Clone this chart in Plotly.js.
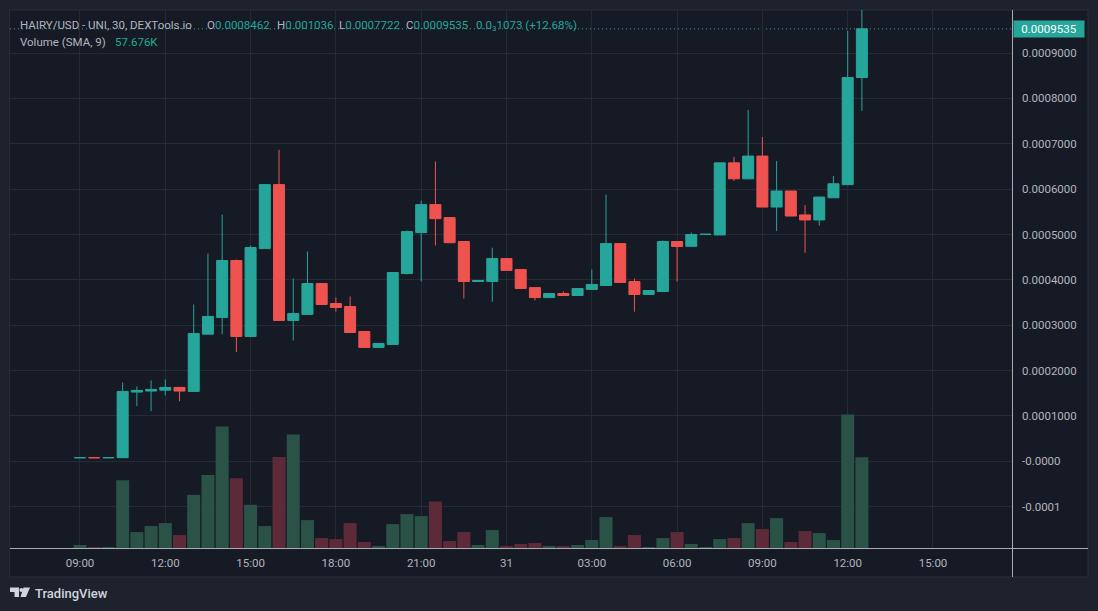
<!DOCTYPE html>
<html>
<head>
<meta charset="utf-8">
<script src="https://cdn.plot.ly/plotly-3.0.1.min.js"></script>
<style>
html,body{margin:0;padding:0;background:#1e222d;}
#chart{width:1098px;height:611px;}
</style>
</head>
<body>
<div id="chart"></div>
<script>
// ---------- DATA ----------
const times = [
 "2024-05-30 09:00","2024-05-30 09:30","2024-05-30 10:00","2024-05-30 10:30","2024-05-30 11:00","2024-05-30 11:30",
 "2024-05-30 12:00","2024-05-30 12:30","2024-05-30 13:00","2024-05-30 13:30","2024-05-30 14:00","2024-05-30 14:30",
 "2024-05-30 15:00","2024-05-30 15:30","2024-05-30 16:00","2024-05-30 16:30","2024-05-30 17:00","2024-05-30 17:30",
 "2024-05-30 18:00","2024-05-30 18:30","2024-05-30 19:00","2024-05-30 19:30","2024-05-30 20:00","2024-05-30 20:30",
 "2024-05-30 21:00","2024-05-30 21:30","2024-05-30 22:00","2024-05-30 22:30","2024-05-30 23:00","2024-05-30 23:30",
 "2024-05-31 00:00","2024-05-31 00:30","2024-05-31 01:00","2024-05-31 01:30","2024-05-31 02:00","2024-05-31 02:30",
 "2024-05-31 03:00","2024-05-31 03:30","2024-05-31 04:00","2024-05-31 04:30","2024-05-31 05:00","2024-05-31 05:30",
 "2024-05-31 06:00","2024-05-31 06:30","2024-05-31 07:00","2024-05-31 07:30","2024-05-31 08:00","2024-05-31 08:30",
 "2024-05-31 09:00","2024-05-31 09:30","2024-05-31 10:00","2024-05-31 10:30","2024-05-31 11:00","2024-05-31 11:30",
 "2024-05-31 12:00","2024-05-31 12:30"
];
const openP = [
 0.0000080,0.0000081,0.0000080,0.0000081,0.0001527,0.0001550,0.0001570,0.0001630,0.0001542,0.0002804,
 0.0003172,0.0004427,0.0002753,0.0004690,0.0006101,0.0003106,0.0003240,0.0003920,0.0003480,0.0003414,
 0.0002863,0.0002511,0.0002577,0.0004140,0.0005044,0.0005660,0.0005374,0.0004846,0.0003965,0.0003965,
 0.0004470,0.0004230,0.0003830,0.0003610,0.0003700,0.0003656,0.0003790,0.0003877,0.0004800,0.0003965,
 0.0003680,0.0003744,0.0004846,0.0004740,0.0005000,0.0004991,0.0006580,0.0006228,0.0006730,0.0005606,
 0.0005960,0.0005432,0.0005322,0.0005810,0.0006100,0.0008462
];
const highP = [
 0.0000081,0.0000081,0.0000081,0.0001740,0.0001650,0.0001784,0.0001806,0.0001630,0.0003458,0.0004580,
 0.0005440,0.0004450,0.0004758,0.0006101,0.0006870,0.0004030,0.0004626,0.0003920,0.0003610,0.0003634,
 0.0002863,0.0002600,0.0004163,0.0005090,0.0005750,0.0006610,0.0005374,0.0004846,0.0004000,0.0004710,
 0.0004470,0.0004230,0.0003830,0.0003700,0.0003744,0.0003810,0.0004230,0.0005880,0.0004800,0.0004030,
 0.0003766,0.0004870,0.0004846,0.0005044,0.0005007,0.0006580,0.0006710,0.0007747,0.0007150,0.0006620,
 0.0005960,0.0005650,0.0005826,0.0006290,0.0009490,0.0010360
];
const lowP = [
 0.0000080,0.0000080,0.0000080,0.0000075,0.0001218,0.0001108,0.0001454,0.0001328,0.0001542,0.0002804,
 0.0002800,0.0002407,0.0002753,0.0004690,0.0003106,0.0002665,0.0003240,0.0003458,0.0003300,0.0002840,
 0.0002511,0.0002511,0.0002577,0.0004120,0.0003965,0.0004758,0.0004820,0.0003590,0.0003965,0.0003520,
 0.0004210,0.0003810,0.0003546,0.0003610,0.0003656,0.0003656,0.0003790,0.0003877,0.0003943,0.0003300,
 0.0003680,0.0003744,0.0003965,0.0004740,0.0005000,0.0004991,0.0006180,0.0006228,0.0005606,0.0005077,
 0.0005408,0.0004597,0.0005196,0.0005810,0.0006100,0.0007722
];
const closeP = [
 0.0000081,0.0000080,0.0000081,0.0001542,0.0001564,0.0001586,0.0001630,0.0001550,0.0002820,0.0003194,
 0.0004427,0.0002753,0.0004714,0.0006101,0.0003106,0.0003260,0.0003920,0.0003458,0.0003392,0.0002840,
 0.0002511,0.0002600,0.0004163,0.0005066,0.0005660,0.0005350,0.0004820,0.0003965,0.0003987,0.0004470,
 0.0004210,0.0003810,0.0003610,0.0003700,0.0003656,0.0003810,0.0003900,0.0004800,0.0003943,0.0003678,
 0.0003766,0.0004846,0.0004736,0.0005000,0.0005007,0.0006580,0.0006228,0.0006730,0.0005606,0.0005960,
 0.0005408,0.0005322,0.0005826,0.0006120,0.0008462,0.0009535
];
// volume in thousands
const volumeK = [
 4.5,1.5,1.5,102,24,33,37.5,19.5,80,110,
 183,105,65,33,137,171,42,15,13.5,37.5,
 9,3,36,51,48,70,10.5,24,4.5,27,
 3,6,7.5,3,3,4.5,12,46.5,3,19.5,
 1.5,15,24,6,1.5,13.5,15,37.5,28.5,45,
 9,25.5,22.5,12,201,136.5
];
const priceTickVals = [0.0009,0.0008,0.0007,0.0006,0.0005,0.0004,0.0003,0.0002,0.0001,0,-0.0001];
const priceTickText = ["0.0009000","0.0008000","0.0007000","0.0006000","0.0005000","0.0004000","0.0003000","0.0002000","0.0001000","-0.0000","-0.0001"];
const timeTickVals = ["2024-05-30 09:00","2024-05-30 12:00","2024-05-30 15:00","2024-05-30 18:00","2024-05-30 21:00",
 "2024-05-31 00:00","2024-05-31 03:00","2024-05-31 06:00","2024-05-31 09:00","2024-05-31 12:00","2024-05-31 15:00"];
const timeTickText = ["09:00","12:00","15:00","18:00","21:00","31","03:00","06:00","09:00","12:00","15:00"];
const lastPrice = 0.0009535;
const legendTitle = "HAIRY/USD - UNI, 30, DEXTools.io";
const legendO = "0.0008462", legendH = "0.001036", legendL = "0.0007722", legendC = "0.0009535";
const legendChange = "0.0<sub>3</sub>1073 (+12.68%)";
const volumeLabel = "Volume (SMA, 9)", volumeSMA = "57.676K";

// ---------- STYLE ----------
const UP = '#26a69a', DOWN = '#ef5350';
const VUP = '#2a5247', VDOWN = '#5c2a38';
const TXT = '#b2b5be';
const FONT = 'Roboto, "Noto Sans", sans-serif';
const LFS = 11.5;

const volColors = closeP.map((c,i)=> c >= openP[i] ? VUP : VDOWN);

// px -> paper helpers (plot area: x 10..1012, y 10..548)
const PX = p => (p-10)/1002;
const PY = p => (548-p)/538;

const traces = [
 {
  type:'bar', x:times, y:volumeK, yaxis:'y2',
  marker:{color:volColors, line:{width:0}},
  width:1650000, hoverinfo:'skip'
 },
 {
  type:'candlestick', x:times, open:openP, high:highP, low:lowP, close:closeP,
  increasing:{line:{color:UP,width:1}, fillcolor:UP},
  decreasing:{line:{color:DOWN,width:1}, fillcolor:DOWN},
  whiskerwidth:0, hoverinfo:'skip'
 }
];

const logoPath = `M${PX(10)},${PY(587.5)} L${PX(19)},${PY(587.5)} L${PX(19)},${PY(597)} L${PX(14.5)},${PY(597)} L${PX(14.5)},${PY(592)} L${PX(10)},${PY(592)} Z`;
const logoPath2 = `M${PX(23.5)},${PY(587.5)} L${PX(30)},${PY(587.5)} L${PX(26)},${PY(597)} L${PX(20.5)},${PY(597)} Z`;

const ann = (x, y, text, color, size) => ({xref:'paper', yref:'paper', x:PX(x), y:PY(y), xanchor:'left', yanchor:'middle',
  showarrow:false, text:text, font:{size:size||LFS, color:color||TXT, family:FONT}});

const layout = {
 width:1098, height:611,
 margin:{l:10, r:86, t:10, b:63, pad:0},
 paper_bgcolor:'#1e222d', plot_bgcolor:'#161a25',
 showlegend:false, hovermode:false,
 boxgap:0.12, boxgroupgap:0.12,
 font:{family:FONT, color:TXT},
 xaxis:{
  type:'date', range:['2024-05-30 06:32:18','2024-05-31 17:46:44'],
  tickmode:'array', tickvals:timeTickVals, ticktext:timeTickText,
  showgrid:true, gridcolor:'#252a35', gridwidth:1, zeroline:false, showline:false,
  ticks:'', tickfont:{size:11.5, color:TXT, family:FONT},
  ticklabelstandoff:6,
  rangeslider:{visible:false}, fixedrange:true
 },
 yaxis:{
  side:'right', range:[-0.000191, 0.000995],
  tickmode:'array', tickvals:priceTickVals, ticktext:priceTickText,
  showgrid:true, gridcolor:'#252a35', gridwidth:1, zeroline:false, showline:false,
  ticks:'', tickfont:{size:11.5, color:TXT, family:FONT},
  ticklabelstandoff:9, fixedrange:true
 },
 yaxis2:{overlaying:'y', range:[0, 810], visible:false, fixedrange:true},
 shapes:[
  {type:'rect', xref:'paper', yref:'paper', x0:-0.0005, x1:PX(1088), y0:PY(577), y1:PY(10),
   fillcolor:'#161a25', line:{color:'#2a2e39', width:1}, layer:'below'},
  {type:'line', xref:'paper', yref:'y', x0:0, x1:1, y0:lastPrice, y1:lastPrice,
   line:{color:UP, width:1, dash:'1px,3px'}, layer:'below'},
  {type:'line', xref:'paper', yref:'paper', x0:PX(1012.5), x1:PX(1012.5), y0:PY(577), y1:PY(10),
   line:{color:'#a9acb4', width:1}, layer:'above'},
  {type:'line', xref:'paper', yref:'paper', x0:0, x1:PX(1088), y0:PY(548.5), y1:PY(548.5),
   line:{color:'#a9acb4', width:1}, layer:'above'},
  {type:'path', xref:'paper', yref:'paper', path:logoPath, fillcolor:'#d1d4dc', line:{width:0}, layer:'above'},
  {type:'path', xref:'paper', yref:'paper', path:logoPath2, fillcolor:'#d1d4dc', line:{width:0}, layer:'above'},
  {type:'circle', xref:'paper', yref:'paper', x0:PX(19.4), x1:PX(23.2), y0:PY(591.9), y1:PY(588.1),
   fillcolor:'#d1d4dc', line:{width:0}, layer:'above'}
 ],
 annotations:[
  ann(18, 25, legendTitle),
  ann(205, 25, `O<span style="color:${UP}">${legendO}</span>`),
  ann(275, 25, `H<span style="color:${UP}">${legendH}</span>`),
  ann(337, 25, `L<span style="color:${UP}">${legendL}</span>`),
  ann(404, 25, `C<span style="color:${UP}">${legendC}</span>`),
  ann(474, 25, legendChange, UP),
  ann(18, 42, volumeLabel),
  ann(113, 42, volumeSMA, '#22ab94'),
  {xref:'paper', yref:'y', x:PX(1012.5), y:lastPrice, xanchor:'left', yanchor:'middle', showarrow:false,
   text:legendC, width:68, height:14, bgcolor:UP, borderpad:1, align:'center',
   font:{size:11.5, color:'#ffffff', family:FONT}},
  {xref:'paper', yref:'paper', x:PX(33), y:PY(593), xanchor:'left', yanchor:'middle', showarrow:false,
   text:'TradingView', font:{size:13, color:'#d1d4dc', family:FONT, weight:500}}
 ]
};

Plotly.newPlot('chart', traces, layout, {displayModeBar:false, staticPlot:true});
</script>
</body>
</html>
